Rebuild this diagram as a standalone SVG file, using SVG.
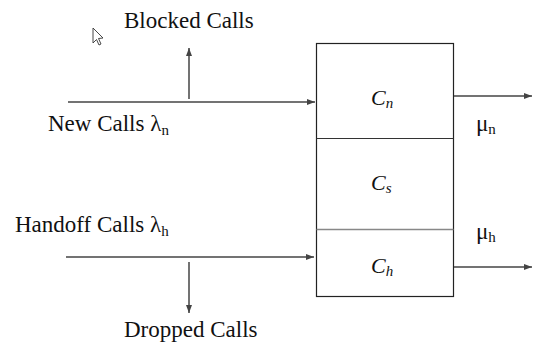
<svg xmlns="http://www.w3.org/2000/svg" width="533" height="345" viewBox="0 0 533 345">
<style>
.t{font-size:23px;fill:#111}
.c{font-size:22px;font-style:italic;fill:#111}
.sub{font-size:15px}
.ln{stroke:#444;stroke-width:1.5;fill:none}
</style>
<defs>
<marker id="ah" viewBox="0 0 8 6" refX="8" refY="3" markerWidth="8" markerHeight="6" markerUnits="userSpaceOnUse" orient="auto">
<path d="M0,0 L8,3 L0,6 Z" fill="#444"/>
</marker>
</defs>
<rect width="533" height="345" fill="#fff"/>
<g id="cursor">
<path d="M93,28 L93,43 L96.5,39.5 L99,45 L101,44 L98.5,38.5 L103,38 Z" fill="#fff" stroke="#333" stroke-width="0.9"/>
</g>
<g id="box">
<rect x="316.5" y="43.5" width="137" height="253" fill="#fff" stroke="#222" stroke-width="1.2"/>
<line x1="316.5" y1="138.5" x2="453.5" y2="138.5" stroke="#333" stroke-width="1.2"/>
<line x1="316.5" y1="229.5" x2="453.5" y2="229.5" stroke="#888" stroke-width="1.5"/>
</g>
<g font-family="Liberation Serif, Times New Roman, Times, DejaVu Serif, serif">
<g id="cn"><text class="c" x="371" y="105">C<tspan class="sub" dy="3">n</tspan></text></g>
<g id="cs"><text class="c" x="371" y="190">C<tspan class="sub" dy="3">s</tspan></text></g>
<g id="ch"><text class="c" x="371" y="273">C<tspan class="sub" dy="3">h</tspan></text></g>
<g id="blocked"><text class="t" x="124" y="28">Blocked Calls</text></g>
<g id="newcalls"><text class="t" x="48" y="131">New Calls λ<tspan class="sub" dy="4">n</tspan></text></g>
<g id="handoff"><text class="t" x="15" y="232">Handoff Calls λ<tspan class="sub" dy="4">h</tspan></text></g>
<g id="dropped"><text class="t" x="124" y="337">Dropped Calls</text></g>
<g id="mun"><text class="t" x="476" y="131">μ<tspan class="sub" dy="3">n</tspan></text></g>
<g id="muh"><text class="t" x="476" y="239">μ<tspan class="sub" dy="3">h</tspan></text></g>
</g>
<g id="connectors">
<line class="ln" x1="68" y1="102" x2="315" y2="102" marker-end="url(#ah)"/>
<line class="ln" x1="189" y1="99" x2="189" y2="48" marker-end="url(#ah)"/>
<line class="ln" x1="454" y1="96" x2="532" y2="96" marker-end="url(#ah)"/>
<line class="ln" x1="66" y1="257" x2="314" y2="257" marker-end="url(#ah)"/>
<line class="ln" x1="189" y1="262" x2="189" y2="313" marker-end="url(#ah)"/>
<line class="ln" x1="454" y1="267" x2="532" y2="267" marker-end="url(#ah)"/>
</g>
</svg>
